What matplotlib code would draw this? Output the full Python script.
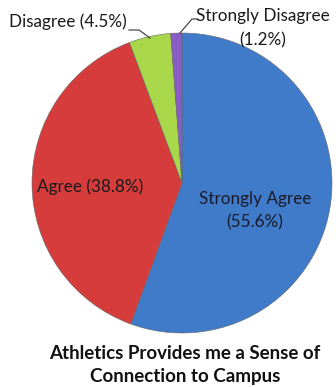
import matplotlib
matplotlib.use("Agg")
import matplotlib.pyplot as plt

categories = ["Strongly Agree", "Agree", "Disagree", "Strongly Disagree"]
percents = [55.6, 38.8, 4.5, 1.2]
colors = ["#3F7BC8", "#D73C3C", "#A8D84A", "#8A5CC6"]
title = "Athletics Provides me a Sense of\nConnection to Campus"

W, H = 336, 387
fig = plt.figure(figsize=(W / 100, H / 100), dpi=100)
# pie centre (182,183) radius 150 px
ax = fig.add_axes([32 / W, (H - 333) / H, 300 / W, 300 / H])
wedges, _ = ax.pie(percents, colors=colors, startangle=90, counterclock=False,
                   radius=1.0, wedgeprops=dict(edgecolor="#666666", linewidth=0.4))
ax.set_xlim(-1, 1)
ax.set_ylim(-1, 1)
ax.axis("off")

fam = ["Lato", "DejaVu Sans"]
fs = 12.3

def px(x, y):
    return (x / W, 1 - y / H)

lab = [f"{c} ({p}%)" for c, p in zip(categories, percents)]
fig.text(*px(255, 211), f"{categories[0]}\n({percents[0]}%)", ha="center", va="center",
         fontsize=fs, family=fam, color="#1a1a2a", linespacing=1.55)
fig.text(*px(90, 187), lab[1], ha="center", va="center", fontsize=fs, family=fam, color="#1a1a1a")
fig.text(*px(68, 22), lab[2], ha="center", va="center", fontsize=fs, family=fam, color="#1a1a1a")
fig.text(*px(263, 28), f"{categories[3]}\n({percents[3]}%)", ha="center", va="center",
         fontsize=fs, family=fam, color="#1a1a1a", linespacing=1.6)

# leader lines (figure pixel coords)
def line(pts):
    xs = [p[0] / W for p in pts]
    ys = [1 - p[1] / H for p in pts]
    fig.add_artist(plt.Line2D(xs, ys, color="#333333", linewidth=0.8))

line([(129, 30), (139, 30), (150, 38)])
line([(197, 19), (192, 19), (180, 33)])

fig.text(*px(185, 365), title, ha="center", va="center", fontsize=13.5,
         fontweight="bold", family=fam, color="#111111", linespacing=1.45)

fig.savefig("out.png", dpi=100, facecolor="white")
